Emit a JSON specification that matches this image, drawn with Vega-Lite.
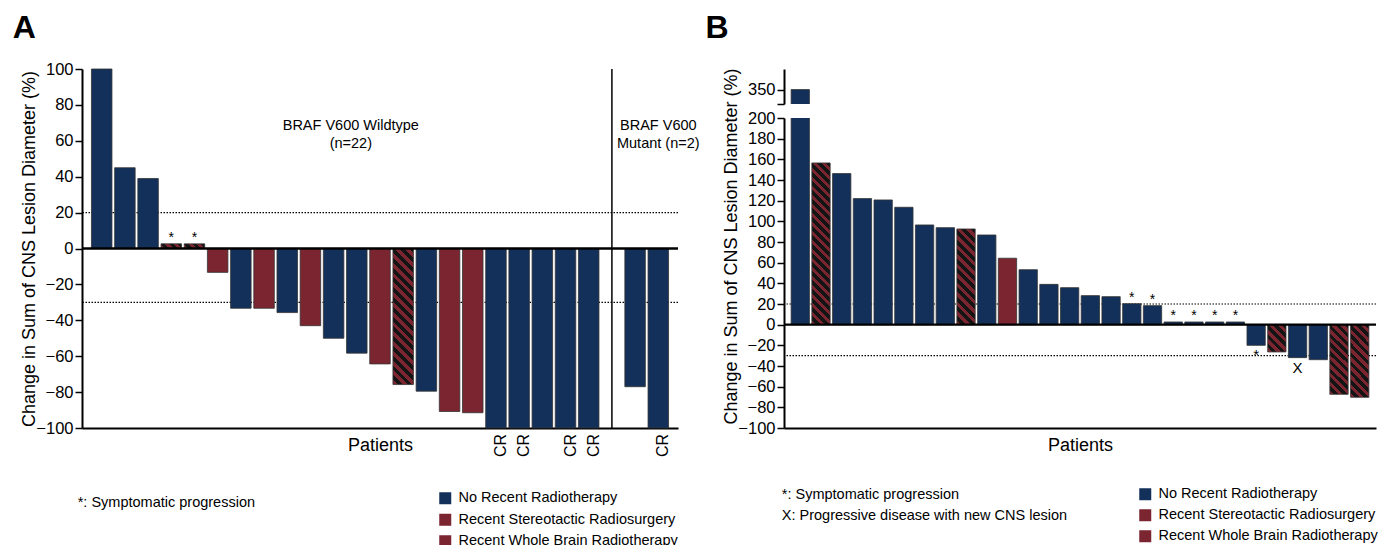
{
  "$schema": "https://vega.github.io/schema/vega-lite/v6.json",
  "padding": {"left": 12, "top": 12, "right": 0, "bottom": 0},
  "background": "white",
  "config": {
    "font": "Liberation Sans",
    "view": {"stroke": null},
    "axis": {"grid": false, "labelOverlap": false, "domainColor": "#000", "tickColor": "#000", "labelColor": "#000", "titleColor": "#000", "domainWidth": 2, "tickWidth": 1.5, "tickSize": 7, "labelFontSize": 16.5, "titleFontSize": 18, "titleFontWeight": "normal"},
    "legend": {"labelFontSize": 14.5, "labelColor": "#000"}
  },
  "datasets": {
    "panelA": [
      {"slot": 1, "change": 100, "group": "No Recent Radiotherapy"},
      {"slot": 2, "change": 45, "group": "No Recent Radiotherapy"},
      {"slot": 3, "change": 39, "group": "No Recent Radiotherapy"},
      {"slot": 4, "change": 2.6, "group": "Recent Whole Brain Radiotherapy", "note": "*"},
      {"slot": 5, "change": 2.6, "group": "Recent Whole Brain Radiotherapy", "note": "*"},
      {"slot": 6, "change": -13.3, "group": "Recent Stereotactic Radiosurgery"},
      {"slot": 7, "change": -33.3, "group": "No Recent Radiotherapy"},
      {"slot": 8, "change": -33.3, "group": "Recent Stereotactic Radiosurgery"},
      {"slot": 9, "change": -35.7, "group": "No Recent Radiotherapy"},
      {"slot": 10, "change": -43, "group": "Recent Stereotactic Radiosurgery"},
      {"slot": 11, "change": -50, "group": "No Recent Radiotherapy"},
      {"slot": 12, "change": -58.3, "group": "No Recent Radiotherapy"},
      {"slot": 13, "change": -64.3, "group": "Recent Stereotactic Radiosurgery"},
      {"slot": 14, "change": -75.8, "group": "Recent Whole Brain Radiotherapy"},
      {"slot": 15, "change": -79.5, "group": "No Recent Radiotherapy"},
      {"slot": 16, "change": -90.8, "group": "Recent Stereotactic Radiosurgery"},
      {"slot": 17, "change": -91.5, "group": "Recent Stereotactic Radiosurgery"},
      {"slot": 18, "change": -100, "group": "No Recent Radiotherapy", "resp": "CR"},
      {"slot": 19, "change": -100, "group": "No Recent Radiotherapy", "resp": "CR"},
      {"slot": 20, "change": -100, "group": "No Recent Radiotherapy"},
      {"slot": 21, "change": -100, "group": "No Recent Radiotherapy", "resp": "CR"},
      {"slot": 22, "change": -100, "group": "No Recent Radiotherapy", "resp": "CR"},
      {"slot": 24, "change": -77, "group": "No Recent Radiotherapy"},
      {"slot": 25, "change": -100, "group": "No Recent Radiotherapy", "resp": "CR"}
    ],
    "panelB": [
      {"slot": 1, "change": 350, "group": "No Recent Radiotherapy"},
      {"slot": 2, "change": 156.5, "group": "Recent Whole Brain Radiotherapy"},
      {"slot": 3, "change": 146.2, "group": "No Recent Radiotherapy"},
      {"slot": 4, "change": 122, "group": "No Recent Radiotherapy"},
      {"slot": 5, "change": 120.7, "group": "No Recent Radiotherapy"},
      {"slot": 6, "change": 113.6, "group": "No Recent Radiotherapy"},
      {"slot": 7, "change": 96.5, "group": "No Recent Radiotherapy"},
      {"slot": 8, "change": 93.9, "group": "No Recent Radiotherapy"},
      {"slot": 9, "change": 92.6, "group": "Recent Whole Brain Radiotherapy"},
      {"slot": 10, "change": 86.8, "group": "No Recent Radiotherapy"},
      {"slot": 11, "change": 64.3, "group": "Recent Stereotactic Radiosurgery"},
      {"slot": 12, "change": 53.2, "group": "No Recent Radiotherapy"},
      {"slot": 13, "change": 39, "group": "No Recent Radiotherapy"},
      {"slot": 14, "change": 35.8, "group": "No Recent Radiotherapy"},
      {"slot": 15, "change": 28.1, "group": "No Recent Radiotherapy"},
      {"slot": 16, "change": 27.1, "group": "No Recent Radiotherapy"},
      {"slot": 17, "change": 20.3, "group": "No Recent Radiotherapy", "note": "*", "pos": "above"},
      {"slot": 18, "change": 18.4, "group": "No Recent Radiotherapy", "note": "*", "pos": "above"},
      {"slot": 19, "change": 2.6, "group": "No Recent Radiotherapy", "note": "*", "pos": "above"},
      {"slot": 20, "change": 2.6, "group": "No Recent Radiotherapy", "note": "*", "pos": "above"},
      {"slot": 21, "change": 2.6, "group": "No Recent Radiotherapy", "note": "*", "pos": "above"},
      {"slot": 22, "change": 2.6, "group": "No Recent Radiotherapy", "note": "*", "pos": "above"},
      {"slot": 23, "change": -20, "group": "No Recent Radiotherapy", "note": "*", "pos": "below"},
      {"slot": 24, "change": -26.4, "group": "Recent Whole Brain Radiotherapy"},
      {"slot": 25, "change": -31.9, "group": "No Recent Radiotherapy", "note": "X", "pos": "below"},
      {"slot": 26, "change": -33.9, "group": "No Recent Radiotherapy"},
      {"slot": 27, "change": -67.4, "group": "Recent Whole Brain Radiotherapy"},
      {"slot": 28, "change": -70.3, "group": "Recent Whole Brain Radiotherapy"}
    ]
  },
  "bounds": "flush",
  "spacing": 106,
  "resolve": {"scale": {"fill": "independent"}, "legend": {"fill": "independent"}},
  "hconcat": [
    {
      "width": 596,
      "height": 359,
      "title": {"text": "A", "anchor": "start", "frame": "bounds", "fontSize": 32, "fontWeight": "bold", "baseline": "alphabetic", "offset": -9, "dx": -8},
      "data": {"name": "panelA"},
      "layer": [
        {"data": {"values": [{}]}, "mark": {"type": "rule", "strokeDash": [1.5, 1.5], "strokeWidth": 1.2, "color": "#000"}, "encoding": {"y": {"datum": 20}}},
        {"data": {"values": [{}]}, "mark": {"type": "rule", "strokeDash": [1.5, 1.5], "strokeWidth": 1.2, "color": "#000"}, "encoding": {"y": {"datum": -30}}},
        {
          "mark": {"type": "bar", "stroke": "#333", "strokeWidth": 0.8},
          "encoding": {
            "x": {"field": "slot", "type": "ordinal", "scale": {"domain": [1,2,3,4,5,6,7,8,9,10,11,12,13,14,15,16,17,18,19,20,21,22,23,24,25], "paddingInner": 0.116, "paddingOuter": 0.408}, "axis": {"labels": false, "ticks": false, "title": "Patients", "titlePadding": 8}},
            "y": {"field": "change", "type": "quantitative", "scale": {"domain": [-100, 100], "nice": false}, "axis": {"values": [-100,-80,-60,-40,-20,0,20,40,60,80,100], "tickCount": 40, "labelOverlap": false, "labelSeparation": 0, "title": "Change in Sum of CNS Lesion Diameter (%)", "titlePadding": -3}},
            "y2": {"datum": 0},
            "fill": {
              "field": "group", "type": "nominal",
              "scale": {"domain": ["No Recent Radiotherapy", "Recent Stereotactic Radiosurgery", "Recent Whole Brain Radiotherapy"], "range": ["#12305a", "#7b2530", "#7b2530"]},
              "legend": {"orient": "none", "legendX": 356, "legendY": 422, "title": null, "symbolType": "square", "symbolSize": 144, "symbolStrokeColor": "#333", "symbolStrokeWidth": 1, "symbolOpacity": 1, "labelFontSize": 14.5, "labelOffset": 6, "rowPadding": 4.5, "labelLimit": 400,
                "encode": {"symbols": {"update": {"fill": [
                  {"test": "datum.value === 'Recent Whole Brain Radiotherapy'", "value": {"gradient": "linear", "x1": 0, "y1": 1, "x2": 1, "y2": 0, "stops": [{"offset": 0, "color": "#141414"}, {"offset": 0.35, "color": "#141414"}, {"offset": 0.35, "color": "#7b2530"}, {"offset": 0.55, "color": "#7b2530"}, {"offset": 0.55, "color": "#141414"}, {"offset": 0.75, "color": "#141414"}, {"offset": 0.75, "color": "#7b2530"}, {"offset": 1, "color": "#7b2530"}]}},
                  {"signal": "datum.value === 'No Recent Radiotherapy' ? '#12305a' : '#7b2530'"}
                ]}}}},
              "condition": [
                {"test": "datum.slot === 4 || datum.slot === 5", "value": {"gradient": "linear", "x1": 0, "y1": 1, "x2": 1.167, "y2": 0.734, "stops": [
                  {"offset": 0, "color": "#7b2530"}, {"offset": 0.1667, "color": "#7b2530"}, {"offset": 0.1667, "color": "#141414"}, {"offset": 0.3333, "color": "#141414"},
                  {"offset": 0.3333, "color": "#7b2530"}, {"offset": 0.5, "color": "#7b2530"}, {"offset": 0.5, "color": "#141414"}, {"offset": 0.6667, "color": "#141414"},
                  {"offset": 0.6667, "color": "#7b2530"}, {"offset": 0.8333, "color": "#7b2530"}, {"offset": 0.8333, "color": "#141414"}, {"offset": 1, "color": "#141414"}]}},
                {"test": "datum.slot === 14", "value": {"gradient": "linear", "x1": 0, "y1": 1, "x2": 0.1695, "y2": -0.1251, "stops": [
                  {"offset": 0, "color": "#7b2530"}, {"offset": 0.03125, "color": "#7b2530"}, {"offset": 0.03125, "color": "#141414"}, {"offset": 0.0625, "color": "#141414"},
                  {"offset": 0.0625, "color": "#7b2530"}, {"offset": 0.09375, "color": "#7b2530"}, {"offset": 0.09375, "color": "#141414"}, {"offset": 0.125, "color": "#141414"},
                  {"offset": 0.125, "color": "#7b2530"}, {"offset": 0.15625, "color": "#7b2530"}, {"offset": 0.15625, "color": "#141414"}, {"offset": 0.1875, "color": "#141414"},
                  {"offset": 0.1875, "color": "#7b2530"}, {"offset": 0.21875, "color": "#7b2530"}, {"offset": 0.21875, "color": "#141414"}, {"offset": 0.25, "color": "#141414"},
                  {"offset": 0.25, "color": "#7b2530"}, {"offset": 0.28125, "color": "#7b2530"}, {"offset": 0.28125, "color": "#141414"}, {"offset": 0.3125, "color": "#141414"},
                  {"offset": 0.3125, "color": "#7b2530"}, {"offset": 0.34375, "color": "#7b2530"}, {"offset": 0.34375, "color": "#141414"}, {"offset": 0.375, "color": "#141414"},
                  {"offset": 0.375, "color": "#7b2530"}, {"offset": 0.40625, "color": "#7b2530"}, {"offset": 0.40625, "color": "#141414"}, {"offset": 0.4375, "color": "#141414"},
                  {"offset": 0.4375, "color": "#7b2530"}, {"offset": 0.46875, "color": "#7b2530"}, {"offset": 0.46875, "color": "#141414"}, {"offset": 0.5, "color": "#141414"},
                  {"offset": 0.5, "color": "#7b2530"}, {"offset": 0.53125, "color": "#7b2530"}, {"offset": 0.53125, "color": "#141414"}, {"offset": 0.5625, "color": "#141414"},
                  {"offset": 0.5625, "color": "#7b2530"}, {"offset": 0.59375, "color": "#7b2530"}, {"offset": 0.59375, "color": "#141414"}, {"offset": 0.625, "color": "#141414"},
                  {"offset": 0.625, "color": "#7b2530"}, {"offset": 0.65625, "color": "#7b2530"}, {"offset": 0.65625, "color": "#141414"}, {"offset": 0.6875, "color": "#141414"},
                  {"offset": 0.6875, "color": "#7b2530"}, {"offset": 0.71875, "color": "#7b2530"}, {"offset": 0.71875, "color": "#141414"}, {"offset": 0.75, "color": "#141414"},
                  {"offset": 0.75, "color": "#7b2530"}, {"offset": 0.78125, "color": "#7b2530"}, {"offset": 0.78125, "color": "#141414"}, {"offset": 0.8125, "color": "#141414"},
                  {"offset": 0.8125, "color": "#7b2530"}, {"offset": 0.84375, "color": "#7b2530"}, {"offset": 0.84375, "color": "#141414"}, {"offset": 0.875, "color": "#141414"},
                  {"offset": 0.875, "color": "#7b2530"}, {"offset": 0.90625, "color": "#7b2530"}, {"offset": 0.90625, "color": "#141414"}, {"offset": 0.9375, "color": "#141414"},
                  {"offset": 0.9375, "color": "#7b2530"}, {"offset": 0.96875, "color": "#7b2530"}, {"offset": 0.96875, "color": "#141414"}, {"offset": 1, "color": "#141414"}]}}
              ]
            }
          }
        },
        {"data": {"values": [{}]}, "mark": {"type": "rule", "strokeWidth": 2.5, "color": "#000"}, "encoding": {"y": {"datum": 0}}},
        {"data": {"values": [{}]}, "mark": {"type": "rule", "strokeWidth": 1.5, "color": "#000"}, "encoding": {"x": {"datum": 23, "type": "ordinal"}}},
        {"transform": [{"filter": "datum.note === '*'"}], "mark": {"type": "text", "baseline": "alphabetic", "dy": -2, "fontSize": 14}, "encoding": {"x": {"field": "slot", "type": "ordinal"}, "y": {"field": "change", "type": "quantitative"}, "text": {"field": "note"}}},
        {"transform": [{"filter": "datum.resp === 'CR'"}], "mark": {"type": "text", "angle": 270, "align": "right", "baseline": "middle", "dx": -6, "dy": 5, "fontSize": 16}, "encoding": {"x": {"field": "slot", "type": "ordinal"}, "y": {"field": "change", "type": "quantitative"}, "text": {"field": "resp"}}},
        {"data": {"values": [{"label": "BRAF V600 Wildtype\n(n=22)"}]}, "mark": {"type": "text", "lineBreak": "\n", "lineHeight": 18, "fontSize": 14.5, "baseline": "middle", "dx": -6}, "encoding": {"x": {"datum": 12, "type": "ordinal"}, "y": {"datum": 68.2}, "text": {"field": "label"}}},
        {"data": {"values": [{"label": "BRAF V600\nMutant (n=2)"}]}, "mark": {"type": "text", "lineBreak": "\n", "lineHeight": 18, "fontSize": 14.5, "baseline": "middle"}, "encoding": {"x": {"datum": 25, "type": "ordinal"}, "y": {"datum": 68.2}, "text": {"field": "label"}}},
        {"data": {"values": [{"label": "*: Symptomatic progression"}]}, "mark": {"type": "text", "align": "left", "baseline": "middle", "fontSize": 14.5, "dx": -24}, "encoding": {"x": {"datum": 1, "type": "ordinal"}, "y": {"datum": -141.8}, "text": {"field": "label"}}}
      ]
    },
    {
      "bounds": "flush",
      "spacing": 14,
      "resolve": {"scale": {"fill": "independent", "x": "independent", "y": "independent"}, "legend": {"fill": "independent"}},
      "vconcat": [
        {
          "width": 592,
          "height": 35,
          "title": {"text": "B", "anchor": "start", "frame": "bounds", "fontSize": 32, "fontWeight": "bold", "baseline": "alphabetic", "offset": -1, "dx": -42},
          "data": {"name": "panelB"},
          "transform": [{"filter": "datum.change > 336"}],
          "mark": {"type": "bar", "stroke": "#333", "strokeWidth": 0.8, "clip": true},
          "encoding": {
            "x": {"field": "slot", "type": "ordinal", "scale": {"domain": [1,2,3,4,5,6,7,8,9,10,11,12,13,14,15,16,17,18,19,20,21,22,23,24,25,26,27,28], "paddingInner": 0.117, "paddingOuter": 0.344}, "axis": null},
            "y": {"field": "change", "type": "quantitative", "scale": {"domain": [336, 370], "nice": false, "zero": false}, "axis": {"values": [336, 350], "tickCount": 10, "labelOverlap": false, "labelExpr": "datum.value === 336 ? '' : datum.label", "title": null}},
            "y2": {"datum": 0},
            "fill": {"field": "group", "type": "nominal", "scale": {"domain": ["No Recent Radiotherapy", "Recent Stereotactic Radiosurgery", "Recent Whole Brain Radiotherapy"], "range": ["#12305a", "#7b2530", "#7b2530"]}, "legend": null}
          }
        },
        {
          "width": 592,
          "height": 310,
          "data": {"name": "panelB"},
          "layer": [
            {"data": {"values": [{}]}, "mark": {"type": "rule", "strokeDash": [1.5, 1.5], "strokeWidth": 1.2, "color": "#000"}, "encoding": {"y": {"datum": 20}}},
            {"data": {"values": [{}]}, "mark": {"type": "rule", "strokeDash": [1.5, 1.5], "strokeWidth": 1.2, "color": "#000"}, "encoding": {"y": {"datum": -30}}},
            {
              "mark": {"type": "bar", "stroke": "#333", "strokeWidth": 0.8, "clip": true},
              "encoding": {
                "x": {"field": "slot", "type": "ordinal", "scale": {"domain": [1,2,3,4,5,6,7,8,9,10,11,12,13,14,15,16,17,18,19,20,21,22,23,24,25,26,27,28], "paddingInner": 0.117, "paddingOuter": 0.344}, "axis": {"labels": false, "ticks": false, "title": "Patients", "titlePadding": 8}},
                "y": {"field": "change", "type": "quantitative", "scale": {"domain": [-100, 200], "nice": false}, "axis": {"values": [-100,-80,-60,-40,-20,0,20,40,60,80,100,120,140,160,180,200], "tickCount": 40, "labelOverlap": false, "labelSeparation": 0, "title": "Change in Sum of CNS Lesion Diameter (%)", "titlePadding": -3, "titleY": 128}},
                "y2": {"datum": 0},
                "fill": {
                  "field": "group", "type": "nominal",
                  "scale": {"domain": ["No Recent Radiotherapy", "Recent Stereotactic Radiosurgery", "Recent Whole Brain Radiotherapy"], "range": ["#12305a", "#7b2530", "#7b2530"]},
                  "legend": {"orient": "none", "legendX": 354, "legendY": 369, "title": null, "symbolType": "square", "symbolSize": 144, "symbolStrokeColor": "#333", "symbolStrokeWidth": 1, "symbolOpacity": 1, "labelFontSize": 14.5, "labelOffset": 6, "rowPadding": 4, "labelLimit": 400,
                    "encode": {"symbols": {"update": {"fill": [
                      {"test": "datum.value === 'Recent Whole Brain Radiotherapy'", "value": {"gradient": "linear", "x1": 0, "y1": 1, "x2": 1, "y2": 0, "stops": [{"offset": 0, "color": "#141414"}, {"offset": 0.35, "color": "#141414"}, {"offset": 0.35, "color": "#7b2530"}, {"offset": 0.55, "color": "#7b2530"}, {"offset": 0.55, "color": "#141414"}, {"offset": 0.75, "color": "#141414"}, {"offset": 0.75, "color": "#7b2530"}, {"offset": 1, "color": "#7b2530"}]}},
                      {"signal": "datum.value === 'No Recent Radiotherapy' ? '#12305a' : '#7b2530'"}
                    ]}}}},
                  "condition": [
                    {"test": "datum.slot === 2", "value": {"gradient": "linear", "x1": 0, "y1": 1, "x2": 0.1244, "y2": -0.0991, "stops": [
                      {"offset": 0, "color": "#7b2530"}, {"offset": 0.025, "color": "#7b2530"}, {"offset": 0.025, "color": "#141414"}, {"offset": 0.05, "color": "#141414"},
                      {"offset": 0.05, "color": "#7b2530"}, {"offset": 0.075, "color": "#7b2530"}, {"offset": 0.075, "color": "#141414"}, {"offset": 0.1, "color": "#141414"},
                      {"offset": 0.1, "color": "#7b2530"}, {"offset": 0.125, "color": "#7b2530"}, {"offset": 0.125, "color": "#141414"}, {"offset": 0.15, "color": "#141414"},
                      {"offset": 0.15, "color": "#7b2530"}, {"offset": 0.175, "color": "#7b2530"}, {"offset": 0.175, "color": "#141414"}, {"offset": 0.2, "color": "#141414"},
                      {"offset": 0.2, "color": "#7b2530"}, {"offset": 0.225, "color": "#7b2530"}, {"offset": 0.225, "color": "#141414"}, {"offset": 0.25, "color": "#141414"},
                      {"offset": 0.25, "color": "#7b2530"}, {"offset": 0.275, "color": "#7b2530"}, {"offset": 0.275, "color": "#141414"}, {"offset": 0.3, "color": "#141414"},
                      {"offset": 0.3, "color": "#7b2530"}, {"offset": 0.325, "color": "#7b2530"}, {"offset": 0.325, "color": "#141414"}, {"offset": 0.35, "color": "#141414"},
                      {"offset": 0.35, "color": "#7b2530"}, {"offset": 0.375, "color": "#7b2530"}, {"offset": 0.375, "color": "#141414"}, {"offset": 0.4, "color": "#141414"},
                      {"offset": 0.4, "color": "#7b2530"}, {"offset": 0.425, "color": "#7b2530"}, {"offset": 0.425, "color": "#141414"}, {"offset": 0.45, "color": "#141414"},
                      {"offset": 0.45, "color": "#7b2530"}, {"offset": 0.475, "color": "#7b2530"}, {"offset": 0.475, "color": "#141414"}, {"offset": 0.5, "color": "#141414"},
                      {"offset": 0.5, "color": "#7b2530"}, {"offset": 0.525, "color": "#7b2530"}, {"offset": 0.525, "color": "#141414"}, {"offset": 0.55, "color": "#141414"},
                      {"offset": 0.55, "color": "#7b2530"}, {"offset": 0.575, "color": "#7b2530"}, {"offset": 0.575, "color": "#141414"}, {"offset": 0.6, "color": "#141414"},
                      {"offset": 0.6, "color": "#7b2530"}, {"offset": 0.625, "color": "#7b2530"}, {"offset": 0.625, "color": "#141414"}, {"offset": 0.65, "color": "#141414"},
                      {"offset": 0.65, "color": "#7b2530"}, {"offset": 0.675, "color": "#7b2530"}, {"offset": 0.675, "color": "#141414"}, {"offset": 0.7, "color": "#141414"},
                      {"offset": 0.7, "color": "#7b2530"}, {"offset": 0.725, "color": "#7b2530"}, {"offset": 0.725, "color": "#141414"}, {"offset": 0.75, "color": "#141414"},
                      {"offset": 0.75, "color": "#7b2530"}, {"offset": 0.775, "color": "#7b2530"}, {"offset": 0.775, "color": "#141414"}, {"offset": 0.8, "color": "#141414"},
                      {"offset": 0.8, "color": "#7b2530"}, {"offset": 0.825, "color": "#7b2530"}, {"offset": 0.825, "color": "#141414"}, {"offset": 0.85, "color": "#141414"},
                      {"offset": 0.85, "color": "#7b2530"}, {"offset": 0.875, "color": "#7b2530"}, {"offset": 0.875, "color": "#141414"}, {"offset": 0.9, "color": "#141414"},
                      {"offset": 0.9, "color": "#7b2530"}, {"offset": 0.925, "color": "#7b2530"}, {"offset": 0.925, "color": "#141414"}, {"offset": 0.95, "color": "#141414"},
                      {"offset": 0.95, "color": "#7b2530"}, {"offset": 0.975, "color": "#7b2530"}, {"offset": 0.975, "color": "#141414"}, {"offset": 1, "color": "#141414"}]}},
                    {"test": "datum.slot === 9", "value": {"gradient": "linear", "x1": 0, "y1": 1, "x2": 0.2198, "y2": -0.1493, "stops": [
                      {"offset": 0, "color": "#7b2530"}, {"offset": 0.0417, "color": "#7b2530"}, {"offset": 0.0417, "color": "#141414"}, {"offset": 0.0833, "color": "#141414"},
                      {"offset": 0.0833, "color": "#7b2530"}, {"offset": 0.125, "color": "#7b2530"}, {"offset": 0.125, "color": "#141414"}, {"offset": 0.1667, "color": "#141414"},
                      {"offset": 0.1667, "color": "#7b2530"}, {"offset": 0.2083, "color": "#7b2530"}, {"offset": 0.2083, "color": "#141414"}, {"offset": 0.25, "color": "#141414"},
                      {"offset": 0.25, "color": "#7b2530"}, {"offset": 0.2917, "color": "#7b2530"}, {"offset": 0.2917, "color": "#141414"}, {"offset": 0.3333, "color": "#141414"},
                      {"offset": 0.3333, "color": "#7b2530"}, {"offset": 0.375, "color": "#7b2530"}, {"offset": 0.375, "color": "#141414"}, {"offset": 0.4167, "color": "#141414"},
                      {"offset": 0.4167, "color": "#7b2530"}, {"offset": 0.4583, "color": "#7b2530"}, {"offset": 0.4583, "color": "#141414"}, {"offset": 0.5, "color": "#141414"},
                      {"offset": 0.5, "color": "#7b2530"}, {"offset": 0.5417, "color": "#7b2530"}, {"offset": 0.5417, "color": "#141414"}, {"offset": 0.5833, "color": "#141414"},
                      {"offset": 0.5833, "color": "#7b2530"}, {"offset": 0.625, "color": "#7b2530"}, {"offset": 0.625, "color": "#141414"}, {"offset": 0.6667, "color": "#141414"},
                      {"offset": 0.6667, "color": "#7b2530"}, {"offset": 0.7083, "color": "#7b2530"}, {"offset": 0.7083, "color": "#141414"}, {"offset": 0.75, "color": "#141414"},
                      {"offset": 0.75, "color": "#7b2530"}, {"offset": 0.7917, "color": "#7b2530"}, {"offset": 0.7917, "color": "#141414"}, {"offset": 0.8333, "color": "#141414"},
                      {"offset": 0.8333, "color": "#7b2530"}, {"offset": 0.875, "color": "#7b2530"}, {"offset": 0.875, "color": "#141414"}, {"offset": 0.9167, "color": "#141414"},
                      {"offset": 0.9167, "color": "#7b2530"}, {"offset": 0.9583, "color": "#7b2530"}, {"offset": 0.9583, "color": "#141414"}, {"offset": 1, "color": "#141414"}]}},
                    {"test": "datum.slot === 24", "value": {"gradient": "linear", "x1": 0, "y1": 1, "x2": 0.7725, "y2": -0.1525, "stops": [
                      {"offset": 0, "color": "#7b2530"}, {"offset": 0.1, "color": "#7b2530"}, {"offset": 0.1, "color": "#141414"}, {"offset": 0.2, "color": "#141414"},
                      {"offset": 0.2, "color": "#7b2530"}, {"offset": 0.3, "color": "#7b2530"}, {"offset": 0.3, "color": "#141414"}, {"offset": 0.4, "color": "#141414"},
                      {"offset": 0.4, "color": "#7b2530"}, {"offset": 0.5, "color": "#7b2530"}, {"offset": 0.5, "color": "#141414"}, {"offset": 0.6, "color": "#141414"},
                      {"offset": 0.6, "color": "#7b2530"}, {"offset": 0.7, "color": "#7b2530"}, {"offset": 0.7, "color": "#141414"}, {"offset": 0.8, "color": "#141414"},
                      {"offset": 0.8, "color": "#7b2530"}, {"offset": 0.9, "color": "#7b2530"}, {"offset": 0.9, "color": "#141414"}, {"offset": 1, "color": "#141414"}]}},
                    {"test": "datum.slot === 27 || datum.slot === 28", "value": {"gradient": "linear", "x1": 0, "y1": 1, "x2": 0.303, "y2": -0.179, "stops": [
                      {"offset": 0, "color": "#7b2530"}, {"offset": 0.05, "color": "#7b2530"}, {"offset": 0.05, "color": "#141414"}, {"offset": 0.1, "color": "#141414"},
                      {"offset": 0.1, "color": "#7b2530"}, {"offset": 0.15, "color": "#7b2530"}, {"offset": 0.15, "color": "#141414"}, {"offset": 0.2, "color": "#141414"},
                      {"offset": 0.2, "color": "#7b2530"}, {"offset": 0.25, "color": "#7b2530"}, {"offset": 0.25, "color": "#141414"}, {"offset": 0.3, "color": "#141414"},
                      {"offset": 0.3, "color": "#7b2530"}, {"offset": 0.35, "color": "#7b2530"}, {"offset": 0.35, "color": "#141414"}, {"offset": 0.4, "color": "#141414"},
                      {"offset": 0.4, "color": "#7b2530"}, {"offset": 0.45, "color": "#7b2530"}, {"offset": 0.45, "color": "#141414"}, {"offset": 0.5, "color": "#141414"},
                      {"offset": 0.5, "color": "#7b2530"}, {"offset": 0.55, "color": "#7b2530"}, {"offset": 0.55, "color": "#141414"}, {"offset": 0.6, "color": "#141414"},
                      {"offset": 0.6, "color": "#7b2530"}, {"offset": 0.65, "color": "#7b2530"}, {"offset": 0.65, "color": "#141414"}, {"offset": 0.7, "color": "#141414"},
                      {"offset": 0.7, "color": "#7b2530"}, {"offset": 0.75, "color": "#7b2530"}, {"offset": 0.75, "color": "#141414"}, {"offset": 0.8, "color": "#141414"},
                      {"offset": 0.8, "color": "#7b2530"}, {"offset": 0.85, "color": "#7b2530"}, {"offset": 0.85, "color": "#141414"}, {"offset": 0.9, "color": "#141414"},
                      {"offset": 0.9, "color": "#7b2530"}, {"offset": 0.95, "color": "#7b2530"}, {"offset": 0.95, "color": "#141414"}, {"offset": 1, "color": "#141414"}]}}
                  ]
                }
              }
            },
            {"data": {"values": [{}]}, "mark": {"type": "rule", "strokeWidth": 2.2, "color": "#000"}, "encoding": {"y": {"datum": 0}}},
            {"transform": [{"filter": "datum.pos === 'above'"}], "mark": {"type": "text", "baseline": "alphabetic", "dy": -2, "fontSize": 14}, "encoding": {"x": {"field": "slot", "type": "ordinal"}, "y": {"field": "change", "type": "quantitative"}, "text": {"field": "note"}}},
            {"transform": [{"filter": "datum.pos === 'below'"}], "mark": {"type": "text", "baseline": "top", "dy": 3, "fontSize": 15}, "encoding": {"x": {"field": "slot", "type": "ordinal"}, "y": {"field": "change", "type": "quantitative"}, "text": {"field": "note"}}},
            {"data": {"values": [{"label": "*: Symptomatic progression\nX: Progressive disease with new CNS lesion"}]}, "mark": {"type": "text", "align": "left", "baseline": "middle", "lineBreak": "\n", "lineHeight": 21, "fontSize": 14.5, "dx": -18.5}, "encoding": {"x": {"datum": 1, "type": "ordinal"}, "y": {"datum": -164.8}, "text": {"field": "label"}}}
          ]
        }
      ]
    }
  ]
}
